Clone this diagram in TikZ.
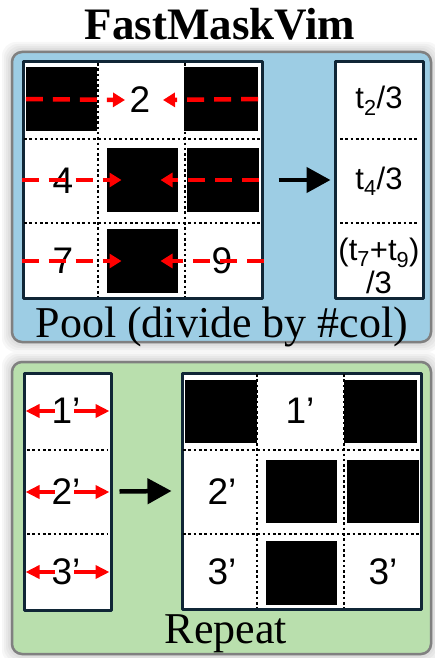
\documentclass[tikz,border=0pt]{standalone}
\usepackage{fontspec}
\setmainfont{Liberation Serif}
\setsansfont{Liberation Sans}
\usetikzlibrary{arrows.meta,calc,positioning}
\definecolor{poolblue}{RGB}{157,205,228}
\definecolor{repeatgreen}{RGB}{185,223,173}
\definecolor{gridnavy}{RGB}{16,38,54}
\definecolor{panelgray}{RGB}{128,128,128}
\definecolor{arrowred}{RGB}{255,0,0}

\begin{document}
\begin{tikzpicture}[x=1pt,y=-1pt,line join=round,
  panel/.style={draw=panelgray,line width=2.5pt,rounded corners=10pt},
  gridbox/.style={draw=gridnavy,line width=3pt,fill=white,inner sep=0pt},
  maskbox/.style={fill=black,inner sep=0pt},
  celltext/.style={font=\sffamily\fontsize{37}{40}\selectfont,inner sep=1pt},
  coltext/.style={font=\sffamily\fontsize{31}{33}\selectfont,align=center,inner sep=1pt},
  divider/.style={line width=2.6pt,dash pattern=on 2.6pt off 2.7pt},
  dasharrow/.style={draw=arrowred,line width=4.5pt,dash pattern=on 17pt off 10pt,
    -{Triangle[length=12pt,width=14pt]}},
  redarrow/.style={draw=arrowred,line width=4.5pt,-{Triangle[length=14pt,width=13pt]}},
  blackarrow/.style={line width=4.5pt,-{Triangle[length=24pt,width=25pt]}}]
 \useasboundingbox (0,0) rectangle (435,658);
 \fill[white] (0,0) rectangle (435,658);
 % soft shadow round both panels
 \foreach \s in {2,4,6,8,10} {
  \fill[black,opacity=.03,rounded corners=14pt] (12-\s,52-\s) rectangle (431+\s,342+\s);
  \fill[black,opacity=.03,rounded corners=14pt] (12-\s,362-\s) rectangle (431+\s,654+\s);
 }
 \node[font=\bfseries\fontsize{45}{50}\selectfont,anchor=base] (title) at (220,40) {FastMaskVim};

 % pool panel
 \draw[panel,fill=poolblue] (12,52) rectangle (431,342);
 \node[gridbox,minimum width=239pt,minimum height=236pt] (poolgrid) at (142.5,180) {};
 \node[gridbox,minimum width=88pt,minimum height=236pt] (poolcol) at (379,180) {};
 \foreach \y in {139,223} {
  \draw[divider] (24,\y) -- (261,\y);
  \draw[divider] (340,\y) -- (417,\y);
 }
 \foreach \x in {98,185}
  \draw[divider] (\x,63) -- (\x,297);
 \node[maskbox,minimum width=71pt,minimum height=64pt] (m11) at (61.5,99) {};
 \node[maskbox,minimum width=74pt,minimum height=64pt] (m13) at (221,99) {};
 \node[maskbox,minimum width=71pt,minimum height=64pt] (m22) at (142.5,180) {};
 \node[maskbox,minimum width=72pt,minimum height=64pt] (m23) at (223,180) {};
 \node[maskbox,minimum width=71pt,minimum height=64pt] (m32) at (142.5,261) {};
 \node[celltext] (n2) at (140,100) {2};
 \node[celltext] (n4) at (63,181) {4};
 \node[celltext] (n7) at (63,261) {7};
 \node[celltext] (n9) at (222,261) {9};
 \draw[dasharrow] (m11.west) -- ([xshift=-15pt]n2.center);
 \draw[dasharrow] (m13.east) -- ([xshift=23pt]n2.center);
 \draw[dasharrow] (poolgrid.west |- m22) -- ([xshift=-21pt]m22.center);
 \draw[dasharrow] (m23.east) -- ([xshift=18pt]m22.center);
 \draw[dasharrow] (poolgrid.west |- m32) -- ([xshift=-21pt]m32.center);
 \draw[dasharrow] (poolgrid.east |- m32) -- ([xshift=18pt]m32.center);
 \draw[blackarrow] ([xshift=15pt]poolgrid.east) -- ([xshift=-3pt]poolcol.west);
 \node[coltext] (t2) at (379,101) {t\textsubscript{2}/3};
 \node[coltext] (t4) at (379,181) {t\textsubscript{4}/3};
 \node[coltext] (t79) at (379,266) {(t\textsubscript{7}+t\textsubscript{9})\\/3};
 \node[font=\fontsize{44}{48}\selectfont,anchor=base] (poollabel) at (222,337)
  {Pool (divide by \#col)};

 % repeat panel
 \draw[panel,fill=repeatgreen] (12,362) rectangle (431,654);
 \node[gridbox,minimum width=87pt,minimum height=237pt] (repcol) at (67.5,491.5) {};
 \node[gridbox,minimum width=239pt,minimum height=236pt] (repgrid) at (301.5,491) {};
 \foreach \y in {450,534} {
  \draw[divider] (27,\y) -- (108,\y);
  \draw[divider] (183,\y) -- (420,\y);
 }
 \foreach \x in {257,344}
  \draw[divider] (\x,374) -- (\x,608);
 \node[maskbox,minimum width=72pt,minimum height=63pt] (q11) at (221,411.5) {};
 \node[maskbox,minimum width=73pt,minimum height=63pt] (q13) at (380.5,411.5) {};
 \node[maskbox,minimum width=71pt,minimum height=63pt] (q22) at (301.5,491.5) {};
 \node[maskbox,minimum width=72pt,minimum height=63pt] (q23) at (383,491.5) {};
 \node[maskbox,minimum width=71pt,minimum height=64pt] (q32) at (301.5,573) {};
 \node[celltext] (g1) at (300,411) {1’};
 \node[celltext] (g2) at (222,492) {2’};
 \node[celltext] (g3) at (222,572) {3’};
 \node[celltext] (g3b) at (383,572) {3’};
 \node[celltext] (r1) at (66,411) {1’};
 \node[celltext] (r2) at (66,492) {2’};
 \node[celltext] (r3) at (66,572) {3’};
 \foreach \r in {r1,r2,r3} {
  \draw[redarrow] ([xshift=-11pt]\r.center) -- ([xshift=3pt]repcol.west |- \r.center);
  \draw[redarrow] ([xshift=8pt]\r.center) -- ([xshift=-3pt]repcol.east |- \r.center);
 }
 \draw[blackarrow] ([xshift=7pt]repcol.east) -- ([xshift=-9pt]repgrid.west);
 \node[font=\fontsize{44}{48}\selectfont,anchor=base] (replabel) at (226,643) {Repeat};
\end{tikzpicture}
\end{document}
